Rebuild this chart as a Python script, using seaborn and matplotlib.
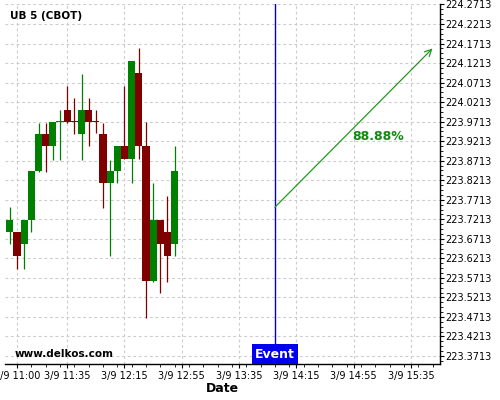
import matplotlib
matplotlib.use("Agg")
import matplotlib.pyplot as plt
import matplotlib.dates as mdates
import matplotlib.transforms as mtransforms
from matplotlib.ticker import FixedLocator, MultipleLocator, FuncFormatter, AutoMinorLocator
import pandas as pd
import seaborn as sns

DAY = "2025-03-09"
times = ["10:55", "11:00", "11:05", "11:10", "11:15", "11:20", "11:25", "11:30",
         "11:35", "11:40", "11:45", "11:50", "11:55", "12:00", "12:05", "12:10",
         "12:15", "12:20", "12:25", "12:30", "12:35", "12:40", "12:45", "12:50"]
opens = [223.689, 223.689, 223.659, 223.719, 223.845, 223.939, 223.909, 223.970,
         224.000, 223.971, 223.939, 224.000, 223.971, 223.939, 223.815, 223.844,
         223.908, 223.875, 224.096, 223.908, 223.564, 223.719, 223.689, 223.658]
highs = [223.752, 223.689, 223.719, 223.844, 223.969, 223.969, 223.971, 224.000,
         224.063, 224.033, 224.094, 224.033, 224.000, 223.969, 223.874, 223.908,
         224.063, 224.126, 224.159, 223.970, 223.813, 223.719, 223.781, 223.908]
lows = [223.658, 223.593, 223.593, 223.688, 223.843, 223.843, 223.874, 223.874,
        223.969, 223.939, 223.874, 223.908, 223.943, 223.751, 223.628, 223.813,
        223.875, 223.813, 223.875, 223.468, 223.562, 223.532, 223.562, 223.628]
closes = [223.719, 223.628, 223.719, 223.844, 223.939, 223.909, 223.971, 223.971,
          223.971, 223.970, 224.000, 223.971, 223.970, 223.815, 223.844, 223.908,
          223.875, 224.126, 223.908, 223.564, 223.719, 223.659, 223.628, 223.844]

x_tick_times = ["11:00", "11:35", "12:15", "12:55", "13:35", "14:15", "14:55", "15:35"]
y_ticks = [223.3713, 223.4213, 223.4713, 223.5213, 223.5713, 223.6213, 223.6713,
           223.7213, 223.7713, 223.8213, 223.8713, 223.9213, 223.9713, 224.0213,
           224.0713, 224.1213, 224.1713, 224.2213, 224.2713]

event_time = "14:00"
arrow_start = ("14:00", 223.7524)
arrow_end = ("15:50", 224.1588)
prob_label = "88.88%"
prob_pos = ("15:12", 223.934)
title = "UB 5 (CBOT)"
watermark = "www.delkos.com"


def t(s):
    return mdates.date2num(pd.Timestamp(f"{DAY} {s}"))


df = pd.DataFrame({"time": [t(s) for s in times], "open": opens, "high": highs,
                   "low": lows, "close": closes})
df["up"] = df["close"] >= df["open"]

sns.set_theme(style="white")
plt.rcParams["font.family"] = ["DejaVu Sans"]

fig = plt.figure(figsize=(5, 4), dpi=100)
ax = fig.add_axes([0.01, 0.09, 0.87, 0.90])

GREEN = "#008000"
RED = "#800000"
width = 5 / 1440

# wicks
for _, r in df.iterrows():
    c = GREEN if r["up"] else RED
    ax.vlines(r["time"], r["low"], r["high"], color=c, lw=0.9, zorder=2)

# bodies
for _, r in df.iterrows():
    c = GREEN if r["up"] else RED
    lo = min(r["open"], r["close"])
    h = abs(r["close"] - r["open"])
    if h < 0.0025:
        lo = (r["open"] + r["close"]) / 2 - 0.00125
        h = 0.0025
    ax.bar(r["time"], h, bottom=lo, width=width, color=c, edgecolor="none",
           align="center", zorder=3)

ax.set_xlim(t("10:51:36"), t("15:55:12"))
ax.set_ylim(223.3508, 224.2725)

# axes styling
for side in ["left", "top"]:
    ax.spines[side].set_visible(False)
for side in ["right", "bottom"]:
    ax.spines[side].set_visible(True)
    ax.spines[side].set_color("black")
    ax.spines[side].set_linewidth(1.0)

ax.xaxis.set_major_locator(FixedLocator([t(s) for s in x_tick_times]))
ax.xaxis.set_minor_locator(MultipleLocator(10 / 1440))


def fmt_x(v, pos):
    d = mdates.num2date(v)
    return f"{d.month}/{d.day} {d:%H:%M}"


ax.xaxis.set_major_formatter(FuncFormatter(fmt_x))
ax.yaxis.set_major_locator(FixedLocator(y_ticks))
ax.yaxis.set_minor_locator(AutoMinorLocator(4))
ax.yaxis.set_major_formatter(FuncFormatter(lambda v, p: f"{v:.4f}"))

ax.tick_params(axis="y", which="both", left=False, right=True, labelleft=False,
               labelright=True, direction="out", colors="black", labelsize=7, pad=1)
ax.tick_params(axis="x", which="both", bottom=True, top=False, direction="out",
               colors="black", labelsize=7, pad=2)
ax.tick_params(which="major", length=3, width=0.8)
ax.tick_params(which="minor", length=2, width=0.6)
for lab in ax.get_yticklabels() + ax.get_xticklabels():
    lab.set_color("black")

ax.grid(True, which="major", color="#cccccc", linestyle=(0, (2.5, 2.5)), linewidth=0.8)
ax.set_axisbelow(True)

ax.set_xlabel("Date", fontsize=9, fontweight="bold", labelpad=1, color="black")

# event line
ev = t(event_time)
ax.axvline(ev, color="#0000cc", lw=1, zorder=4)
trans = mtransforms.blended_transform_factory(ax.transData, ax.transAxes)
trans_off = mtransforms.offset_copy(trans, fig=fig, y=3.5, units="dots")
ax.text(ev, 0, "Event", transform=trans_off, ha="center", va="bottom",
        fontsize=9, fontweight="bold", color="white", zorder=6,
        bbox=dict(boxstyle="square,pad=0.28", fc="#0000ee", ec="none"))

# arrow
ax.annotate("", xy=(t(arrow_end[0]), arrow_end[1]),
            xytext=(t(arrow_start[0]), arrow_start[1]),
            arrowprops=dict(arrowstyle="->", color="#229922", lw=0.9,
                            mutation_scale=12, shrinkA=0, shrinkB=0), zorder=5)
ax.text(t(prob_pos[0]), prob_pos[1], prob_label, ha="center", va="center",
        fontsize=9, fontweight="bold", color="#128a12", zorder=5)

ax.text(0.012, 0.967, title, transform=ax.transAxes, ha="left", va="center",
        fontsize=7.5, fontweight="bold", color="black")
ax.text(0.023, 0.028, watermark, transform=ax.transAxes, ha="left", va="center",
        fontsize=7.5, fontweight="bold", color="black")

fig.savefig("out.png", dpi=100)
